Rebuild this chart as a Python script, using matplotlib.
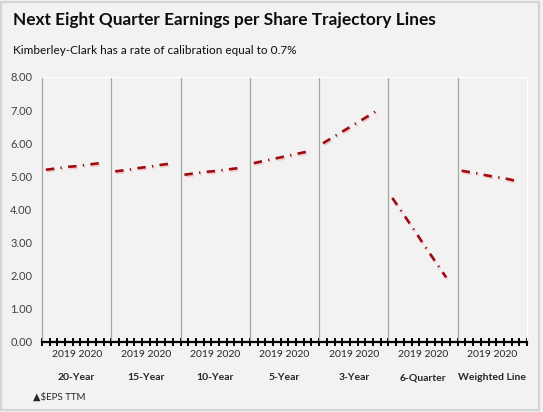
import numpy as np
import matplotlib
matplotlib.use('Agg')
import matplotlib.pyplot as plt
import matplotlib.patheffects as pe
from matplotlib.patches import Rectangle

# groups of trajectory lines, each with eight quarterly values
groups = ['20-Year', '15-Year', '10-Year', '5-Year', '3-Year', '6-Quarter', 'Weighted Line']
eps_20yr = [5.20, 5.23, 5.26, 5.29, 5.31, 5.34, 5.37, 5.40]
eps_15yr = [5.15, 5.18, 5.21, 5.25, 5.28, 5.31, 5.35, 5.38]
eps_10yr = [5.05, 5.08, 5.11, 5.14, 5.16, 5.19, 5.22, 5.25]
eps_5yr = [5.40, 5.45, 5.50, 5.55, 5.60, 5.65, 5.70, 5.75]
eps_3yr = [6.00, 6.14, 6.28, 6.42, 6.56, 6.70, 6.84, 6.98]
eps_6q = [4.35, 4.01, 3.67, 3.33, 2.97, 2.63, 2.29, 1.95]
eps_wtd = [5.17, 5.13, 5.09, 5.04, 5.00, 4.96, 4.92, 4.87]
series = [eps_20yr, eps_15yr, eps_10yr, eps_5yr, eps_3yr, eps_6q, eps_wtd]
year_labels = '2019 2020'
yticks = [0, 1, 2, 3, 4, 5, 6, 7, 8]

slots = 9  # category slots per group (8 quarters + a spacer)
bg = '#f2f2f2'

fig = plt.figure(figsize=(5.43, 4.12), dpi=100, facecolor=bg)
fig.patches.append(Rectangle((0.002, 0.006), 0.991, 0.99, transform=fig.transFigure,
                             fill=False, edgecolor='#d4d4d4', linewidth=1.6))
ax = fig.add_axes([42/543, 1-342/412, 485/543, 265/412])
ax.set_facecolor(bg)

for g, vals in enumerate(series):
    xs = g*slots + np.arange(len(vals)) + 0.5
    ax.plot(xs, vals, color='#9e0b0f', linewidth=1.9, dashes=(3.2, 2.4, 0.5, 2.4),
            solid_capstyle='butt', dash_capstyle='butt',
            path_effects=[pe.SimpleLineShadow(offset=(0.8, -1.2), shadow_color='#f08080', alpha=0.35),
                          pe.Normal()])

n = len(groups) * slots
ax.set_xlim(0, n)
ax.set_ylim(0, 8)
ax.vlines([g*slots for g in range(1, len(groups))], 0, 8, color='#a6a6a6', linewidth=0.9)

ax.set_xticks(range(n + 1))
ax.set_xticklabels([])
ax.tick_params(axis='x', direction='inout', length=5.5, width=1.4, color='black')
ax.set_yticks(yticks)
ax.set_yticklabels(['%.2f' % v for v in yticks], fontsize=8, color='#404040', family='Lato')
ax.tick_params(axis='y', length=0, pad=7)

ax.spines['bottom'].set_color('black')
ax.spines['bottom'].set_linewidth(1.6)
ax.spines['left'].set_color('#a6a6a6')
ax.spines['left'].set_linewidth(0.9)
ax.spines['top'].set_color('white')
ax.spines['right'].set_color('white')
ax.spines['top'].set_linewidth(0.8)
ax.spines['right'].set_linewidth(0.8)

for g, name in enumerate(groups):
    cx = g*slots + slots/2
    ax.text(cx, -0.38, year_labels, ha='center', va='center', fontsize=7.5,
            color='#262626', family='Lato')
    ax.text(cx, -1.08, name, ha='center', va='center', fontsize=7.5,
            fontweight='bold', color='#262626', family='Lato')

fig.text(33/543, 1-397/412, '\u25b2$EPS TTM', ha='left', va='center', fontsize=7,
         color='#262626', family=['Lato', 'DejaVu Sans'])
fig.text(13/543, 1-20/412, 'Next Eight Quarter Earnings per Share Trajectory Lines',
         ha='left', va='center', fontsize=12.4, fontweight='bold', color='#0d0d0d', family='Lato')
fig.text(13/543, 1-50/412, 'Kimberley-Clark has a rate of calibration equal to 0.7%',
         ha='left', va='center', fontsize=8.5, color='#0d0d0d', family='Lato')

fig.savefig('out.png', dpi=100, facecolor=bg)
